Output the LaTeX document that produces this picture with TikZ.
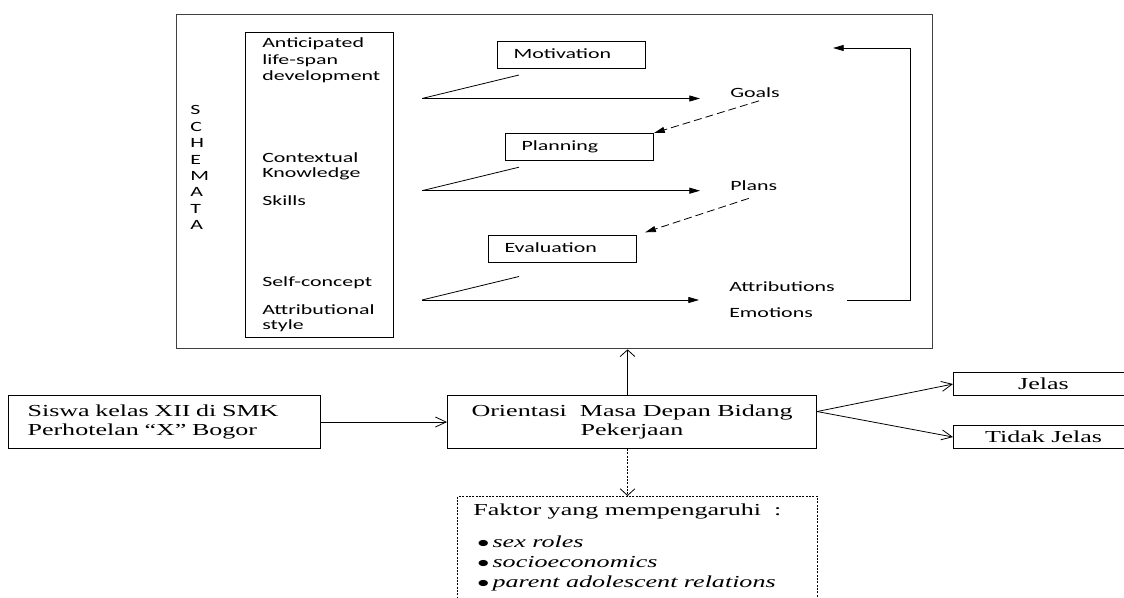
\documentclass[tikz,border=0pt]{standalone}
\usepackage{fontspec}
\newfontfamily\sansw[FakeStretch=1.55]{Carlito}
\newfontfamily\serifw[FakeStretch=1.55]{Liberation Serif}
\usetikzlibrary{arrows.meta,calc}

\newcommand{\bigdot}{\scalebox{1.5}[1]{$\bullet$}}

\tikzset{
  schemtxt/.style={font=\sansw\fontsize{10.6}{12.4}\selectfont, inner sep=0pt, text=black},
  stagebox/.style={draw, line width=0.8pt, anchor=north west, align=left,
    text width=87pt, inner xsep=12pt, text height=7.5pt, text depth=2pt,
    minimum height=20pt, font=\sansw\fontsize{10.6}{12.4}\selectfont},
  wordbox/.style={draw, line width=0.8pt, anchor=north west,
    font=\serifw\fontsize{12.6}{14.3}\selectfont},
  arr/.style={line width=0.6pt, -{Triangle[length=8pt,width=4.5pt]}},
  dasharr/.style={arr, dash pattern=on 6pt off 3pt},
  openh/.style={line width=0.6pt, -{Straight Barb[length=8pt,width=7.5pt]}},
  openv/.style={line width=0.6pt, -{Straight Barb[length=5pt,width=11pt]}},
  dotline/.style={dash pattern=on 1.5pt off 1pt},
}

\begin{document}
\begin{tikzpicture}[x=0.75pt, y=-0.75pt]
  \clip (0,0) rectangle (1124,598);

  % schemata frame
  \node[draw=black!75, line width=1pt, anchor=north west, minimum width=567pt,
    minimum height=250.5pt, inner sep=0pt] (frame) at (176,14) {};
  \node[draw, line width=0.9pt, anchor=north west, minimum width=111pt,
    minimum height=228.75pt, inner sep=0pt] (schema) at (245,32) {};

  \foreach \c [count=\i] in {S,C,H,E,M,A,T,A}
    \node[schemtxt, anchor=base west] (ltr\i) at (190,{98.5+16.4*\i}) {\c};

  \foreach \lbl/\yy [count=\i] in {Anticipated/48,life-span/65,development/81,
      Contextual/163,Knowledge/178,Skills/206,Self-concept/287,
      Attributional/315,style/330}
    \node[schemtxt, anchor=base west] (item\i) at (262,\yy) {\lbl};

  % stages
  \node[stagebox] (motiv) at (497,41) {Motivation};
  \node[stagebox] (plan) at (505,133) {Planning};
  \node[stagebox] (eval) at (488,235) {Evaluation};

  \node[schemtxt, anchor=base west] (goals) at (730,97.5) {Goals};
  \node[schemtxt, anchor=base west] (plans) at (730,191) {Plans};
  \node[schemtxt, anchor=base west] (attr) at (729,291.5) {Attributions};
  \node[schemtxt, anchor=base west] (emot) at (729,318) {Emotions};

  \foreach \yy/\out [count=\i] in {98.5/goals,190.7/plans,300/attr}{
    \coordinate (src\i) at (422,\yy);
    \coordinate (tip\i) at (519,\yy-23.5);
    \draw[line width=0.6pt] (src\i) -- (tip\i);
    \draw[arr, shorten >=22.5pt] (src\i) -- (src\i -| \out.west);
  }

  \draw[dasharr] ($(goals.south)+(4,3)$) -- (plan.north east);
  \draw[dasharr, shorten >=6.4pt] ($(plans.south)+(-5,7)$) -- (eval.north east);

  % feedback loop
  \coordinate (fbs) at (847,300);
  \coordinate (fbc) at (910,48);
  \coordinate (fbe) at (833,48);
  \draw[arr] (fbs) -| (fbc) -- (fbe);

  % bottom row
  \node[wordbox, text width=205.5pt, inner xsep=14.25pt, minimum height=39.75pt,
    align=left] (siswa) at (8,395) {Siswa kelas XII di SMK\\ Perhotelan “X” Bogor};
  \node[wordbox, minimum width=276.75pt, minimum height=39.75pt,
    align=center] (orient) at (447,395) {Orientasi\ \ Masa Depan Bidang\\ Pekerjaan};
  \node[wordbox, minimum width=135pt, minimum height=17.25pt, inner sep=0pt] (jelas) at (953,372) {Jelas};
  \node[wordbox, minimum width=135pt, minimum height=17.25pt, inner sep=0pt] (tidak) at (953,425) {Tidak Jelas};

  \node[draw, line width=0.8pt, dotline, anchor=north west, minimum width=270pt,
    minimum height=90pt, inner sep=0pt] (faktor) at (457,496) {};
  \node[anchor=north west, inner sep=0pt, align=left,
    font=\serifw\fontsize{12.6}{15}\selectfont] (faktxt) at (473,504)
    {Faktor yang mempengaruhi\ \ :\\[9pt]
     \hspace*{3pt}\bigdot\hspace{2.5pt}\textit{sex roles}\\
     \hspace*{3pt}\bigdot\hspace{2.5pt}\textit{socioeconomics}\\
     \hspace*{3pt}\bigdot\hspace{2.5pt}\textit{parent adolescent relations}};

  \draw[openh] (siswa) -- (orient);
  \coordinate (split) at ($(orient.east)+(0,-10.5)$);
  \draw[openh] (split) -- (jelas.west);
  \draw[openh] (split) -- (tidak.west);

  \coordinate (upfoot) at ($(orient.north)+(-4.5,0)$);
  \draw[openv] (upfoot) -- (upfoot |- frame.south);
  \coordinate (dnfoot) at ($(orient.south)+(-4.5,0)$);
  \draw[openv, dotline] (dnfoot) -- (dnfoot |- faktor.north);
\end{tikzpicture}
\end{document}
